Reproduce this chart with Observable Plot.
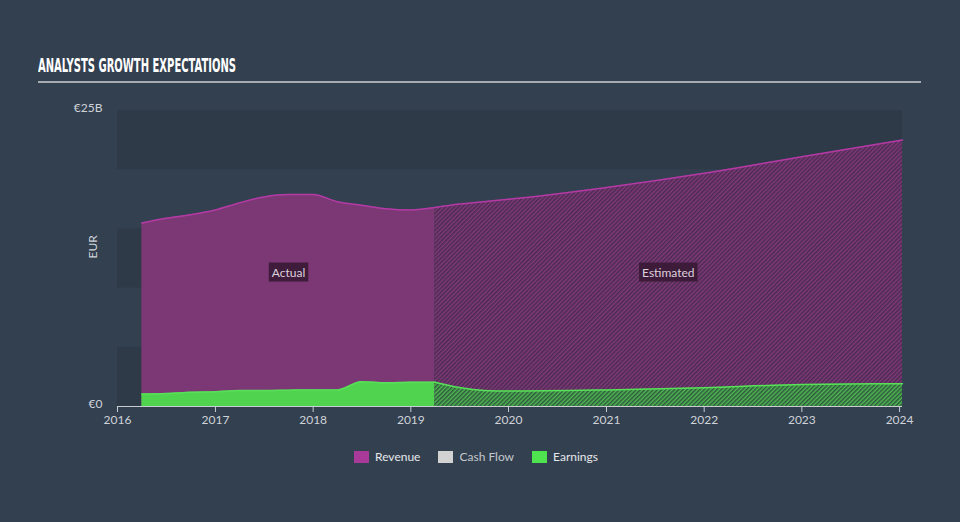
<!DOCTYPE html>
<html><head><meta charset="utf-8">
<script src="https://cdn.jsdelivr.net/npm/d3@7"></script>
<script src="https://cdn.jsdelivr.net/npm/@observablehq/plot@0.6"></script>
<style>
body{margin:0;background:#334050;width:960px;height:522px;overflow:hidden;font-family:Lato,"Open Sans",sans-serif;}
#head{position:relative;height:81px;margin:0 39px 0 38px;border-bottom:2px solid #a5abb1;}
#title{position:absolute;left:0;top:56px;font-family:"Liberation Sans Narrow","DejaVu Sans Condensed",sans-serif;font-weight:bold;font-size:19px;line-height:19px;color:#ffffff;white-space:nowrap;transform-origin:0 0;}
#legend{display:flex;justify-content:center;align-items:center;margin-top:13px;font-size:12px;color:#e6e8ea;padding-right:8px}
#legend .item{display:flex;align-items:center;margin:0 9px;}
#legend .sw{width:15px;height:12px;margin-right:6px;}
</style></head>
<body>
<div id="head"><span id="title">ANALYSTS GROWTH EXPECTATIONS</span></div>
<div id="chart"></div>
<div id="legend"></div>
<script>
// ---- data (EUR billions) ----
const actualDates = ["2016-04-01","2016-07-01","2016-10-01","2017-01-01","2017-04-01","2017-07-01","2017-10-01","2018-01-01","2018-04-01","2018-07-01","2018-10-01","2019-01-01","2019-04-01"];
const actualRevenue = [15.5,15.9,16.2,16.6,17.2,17.7,17.9,17.9,17.3,17.0,16.7,16.6,16.8];
const actualEarnings = [1.05,1.1,1.2,1.25,1.35,1.35,1.38,1.4,1.4,2.1,2.0,2.05,2.05];
const estDates = ["2019-04-01","2019-07-01","2019-10-01","2020-01-01","2021-01-01","2022-01-01","2023-01-01","2024-01-12"];
const estRevenue = [16.8,17.1,17.3,17.5,18.5,19.7,21.1,22.5];
const estEarnings = [2.05,1.6,1.35,1.3,1.4,1.58,1.86,1.92];
const yTicks = [0,25];
const xTickYears = [2016,2017,2018,2019,2020,2021,2022,2023,2024];
const bandStarts = [0,10,20];
const periodLabels = ["Actual","Estimated"];
const periodLabelDates = ["2017-10-01","2021-08-20"];
const periodLabelLevel = 11.3;
const legendLabels = ["Revenue","Cash Flow","Earnings"];
const legendColors = ["#a93a9a","#d2d2d2","#4fe34f"];

const actual = actualDates.map((d,i)=>({date:new Date(d),revenue:actualRevenue[i],earnings:actualEarnings[i]}));
const est = estDates.map((d,i)=>({date:new Date(d),revenue:estRevenue[i],earnings:estEarnings[i]}));
const labels = periodLabels.map((t,i)=>({text:t,date:new Date(periodLabelDates[i]),v:periodLabelLevel}));
const curve = "monotone-x";

const chart = Plot.plot({
  width:960, height:353,
  marginTop:27, marginBottom:30, marginLeft:117, marginRight:58,
  style:{background:"transparent",color:"#cfd3d8",fontFamily:"Lato, 'Open Sans', sans-serif",fontSize:"12px"},
  x:{type:"utc",domain:[new Date("2016-01-01"),new Date("2024-01-12")]},
  y:{domain:[0,25]},
  marks:[
    Plot.rect(bandStarts,{y1:d=>d,y2:d=>d+5,fill:"#2e3a48"}),
    Plot.areaY(actual,{x:"date",y:"revenue",fill:"#7b3874",curve}),
    Plot.areaY(est,{x:"date",y:"revenue",fill:"url(#hatchRev)",curve}),
    Plot.areaY(actual,{x:"date",y:"earnings",fill:"#50d450",curve}),
    Plot.areaY(est,{x:"date",y:"earnings",fill:"url(#hatchEarn)",curve}),
    Plot.lineY(actual,{x:"date",y:"revenue",stroke:"#b43aa5",strokeWidth:1.5,curve}),
    Plot.lineY(est,{x:"date",y:"revenue",stroke:"#b43aa5",strokeWidth:1.5,curve}),
    Plot.lineY(actual,{x:"date",y:"earnings",stroke:"#58e058",strokeWidth:1.5,curve}),
    Plot.lineY(est,{x:"date",y:"earnings",stroke:"#58e058",strokeWidth:1.5,curve}),
    Plot.ruleY([0],{stroke:"#c8ccd1",strokeWidth:1}),
    Plot.axisX({ticks:xTickYears.map(y=>new Date(Date.UTC(y,0,1))),tickFormat:d=>String(d.getUTCFullYear()),tickSize:6,tickPadding:3,stroke:"#c8ccd1",label:null}),
    Plot.axisY({ticks:yTicks,tickSize:0,tickPadding:15,dy:-2,tickFormat:d=>d===0?"€0":`€${d}B`,label:null}),
    Plot.text(["EUR"],{frameAnchor:"left",dx:-24,rotate:-90,fill:"#cfd3d8",fontSize:12}),
    Plot.text(labels,{x:"date",y:"v",text:"text",fill:"#ddd0dc",fontSize:12})
  ]
});
document.getElementById("chart").appendChild(chart);

const svg = d3.select(chart);
const defs = svg.insert("defs",":first-child");
function hatch(id,base,dark){
  const p = defs.append("pattern").attr("id",id).attr("patternUnits","userSpaceOnUse")
    .attr("width",3).attr("height",3).attr("patternTransform","rotate(45)");
  p.append("rect").attr("width",3).attr("height",3).attr("fill",base);
  p.append("rect").attr("width",1.5).attr("height",3).attr("fill",dark);
}
hatch("hatchRev","#80397a","#4b2b50");
hatch("hatchEarn","#4fb84f","#2f5840");

// dark boxes behind the period labels
svg.selectAll("text").filter(function(){ return periodLabels.includes(this.textContent); }).each(function(){
  const b = this.getBBox();
  const tr = this.getAttribute("transform");
  const r = document.createElementNS("http://www.w3.org/2000/svg","rect");
  r.setAttribute("x",b.x-3); r.setAttribute("y",b.y-2);
  r.setAttribute("width",b.width+6); r.setAttribute("height",b.height+4);
  r.setAttribute("fill","#3a1a36"); r.setAttribute("fill-opacity","0.92");
  if (tr) r.setAttribute("transform",tr);
  this.parentNode.insertBefore(r,this);
});

// title fit
const t = document.getElementById("title");
const w = t.getBoundingClientRect().width;
t.style.transform = `scaleX(${198/w})`;

// legend
const lg = d3.select("#legend");
legendLabels.forEach((l,i)=>{
  const it = lg.append("div").attr("class","item");
  it.append("div").attr("class","sw").style("background",legendColors[i]);
  it.append("span").text(l).style("color", i===1?"#c4c8cc":"#e6e8ea");
});
</script>
</body></html>
